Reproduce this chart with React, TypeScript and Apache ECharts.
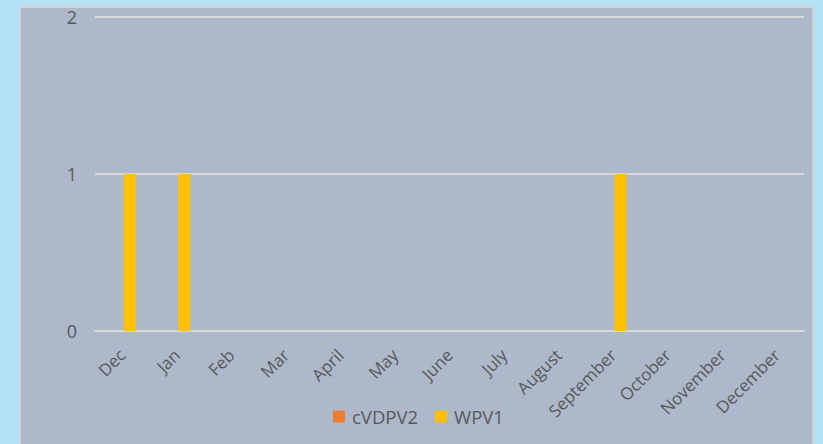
import React, { useEffect, useRef } from "react";
import * as echarts from "echarts";

const categories = ["Dec", "Jan", "Feb", "Mar", "April", "May", "June", "July", "August", "September", "October", "November", "December"];
const cVDPV2 = [0, 0, 0, 0, 0, 0, 0, 0, 0, 0, 0, 0, 0];
const WPV1 = [1, 1, 0, 0, 0, 0, 0, 0, 0, 1, 0, 0, 0];
const yTicks = [0, 1, 2];

export default function App() {
  const ref = useRef<HTMLDivElement>(null);
  useEffect(() => {
    if (!ref.current) return;
    const chart = echarts.init(ref.current, undefined, { renderer: "svg" });
    const font = "'Open Sans', 'Liberation Sans', sans-serif";
    chart.setOption({
      animation: false,
      backgroundColor: "#b4e2f4",
      graphic: [
        {
          type: "rect",
          z: -10,
          silent: true,
          shape: { x: 20, y: 7, width: 793, height: 460 },
          style: { fill: "#adb8ca", stroke: "#cfd3d8", lineWidth: 2 },
        },
      ],
      grid: { left: 95, right: 19, top: 17, bottom: 113, containLabel: false },
      legend: {
        data: ["cVDPV2", "WPV1"],
        top: 402,
        left: 328,
        itemWidth: 12,
        itemHeight: 12,
        itemGap: 17,
        icon: "rect",
        textStyle: { color: "#595959", fontSize: 18.5, fontFamily: font, padding: [0, 0, 0, 2] },
      },
      xAxis: {
        type: "category",
        data: categories,
        axisLine: { lineStyle: { color: "#d9d9d9", width: 2 } },
        axisTick: { show: false },
        axisLabel: {
          rotate: 45,
          color: "#595959",
          fontSize: 17,
          fontFamily: font,
          interval: 0,
          margin: 21,
        },
      },
      yAxis: {
        type: "value",
        min: 0,
        max: 2,
        interval: 1,
        axisLabel: {
          color: "#595959",
          fontSize: 18,
          fontFamily: font,
          margin: 18,
          formatter: (v: number) => (yTicks.includes(v) ? String(v) : ""),
        },
        axisLine: { show: false },
        axisTick: { show: false },
        splitLine: { lineStyle: { color: "#d9d9d9", width: 2 } },
      },
      series: [
        {
          name: "cVDPV2",
          type: "bar",
          data: cVDPV2,
          barWidth: 12,
          barGap: "25%",
          itemStyle: { color: "#ed7d31" },
        },
        {
          name: "WPV1",
          type: "bar",
          data: WPV1,
          barWidth: 12,
          itemStyle: { color: "#ffc000" },
        },
      ],
    });
    return () => chart.dispose();
  }, []);
  return (
    <div
      ref={ref}
      style={{ position: "fixed", left: 0, top: 0, width: 823, height: 444 }}
    />
  );
}
